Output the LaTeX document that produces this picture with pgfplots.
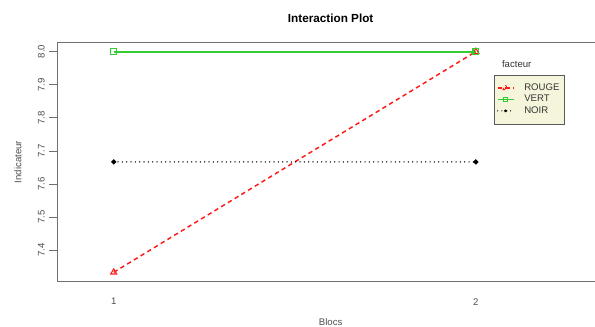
\documentclass[border=0pt]{standalone}
\usepackage{pgfplots}
\pgfplotsset{compat=1.18}
\usepackage{fontspec}
\setmainfont{Liberation Sans}

\definecolor{facRouge}{HTML}{FF1A1A}
\definecolor{facVert}{HTML}{33CC33}
\definecolor{facNoir}{HTML}{000000}
\definecolor{axisgray}{HTML}{707070}
\definecolor{labelgray}{HTML}{4D4D4D}
\definecolor{legendfill}{HTML}{F5F5DC}

\begin{document}
\begin{tikzpicture}
% page frame: 595 x 327 units of 0.75pt
\useasboundingbox (0pt,0pt) rectangle (446.25pt,245.25pt);
\clip (0pt,0pt) rectangle (446.25pt,245.25pt);
\begin{axis}[
  at={(43pt,34.0pt)}, anchor=south west,
  scale only axis,
  width=410pt, height=179.25pt,
  xmin=0.8443, xmax=2.354,
  ymin=7.305, ymax=8.027,
  xtick={1,2}, xticklabels={1,2},
  ytick={7.4,7.5,7.6,7.7,7.8,7.9,8.0},
  yticklabels={7.4,7.5,7.6,7.7,7.8,7.9,8.0},
  axis line style={axisgray, line width=0.8pt},
  x tick style={draw=none},
  y tick style={axisgray, line width=0.6pt},
  tick align=outside,
  major tick length=6pt,
  /pgf/number format/assume math mode=true,
  ticklabel style={font=\fontsize{7.2}{8}\selectfont, text=labelgray},
  yticklabel style={rotate=90, anchor=south},
  xticklabel style={yshift=-3pt},
  title={\textbf{Interaction Plot}},
  title style={font=\fontsize{8.8}{10}\selectfont, at={(0.5,1)}, anchor=center, yshift=12.5pt},
  xlabel={Blocs},
  xlabel style={font=\fontsize{7.2}{8}\selectfont, text=labelgray, at={(0.5,0)}, anchor=center, yshift=-30pt},
  ylabel={Indicateur},
  ylabel style={font=\fontsize{7.2}{8}\selectfont, text=labelgray, at={(0,0.5)}, anchor=center, yshift=29.5pt},
  legend cell align=left,
  legend image code/.code={
    \draw[line width=1pt, mark repeat=2, mark phase=2,
          mark options={line width=0.7pt, scale=0.85}]
      plot coordinates {(0pt,0pt) (6pt,0pt) (12pt,0pt)};
    % keep room between the line sample and its label
    \path[draw=none, fill=none] (0pt,0pt) rectangle (18pt,0.1pt);
  },
  legend style={
    at={(0.7985,0.8660)}, anchor=north west,
    fill=legendfill, draw=black!65, line width=0.6pt,
    font=\fontsize{7.2}{8}\selectfont,
    inner xsep=2pt, inner ysep=4.5pt, row sep=-1.95pt,
    nodes={text=black!80},
  },
]
% ROUGE : dashed red, open triangles
\addplot[color=facRouge, line width=1.1pt, dash pattern=on 3.3pt off 2.6pt,
  mark=triangle, mark size=2.6pt, mark options={solid, line width=0.8pt}]
  coordinates {(1,7.3333) (2,8.0)};
\addlegendentry{ROUGE}
% VERT : solid green, open squares
\addplot[color=facVert, line width=1.5pt, solid,
  mark=square, mark size=2.1pt, mark options={solid, line width=0.8pt}]
  coordinates {(1,8.0) (2,8.0)};
\addlegendentry{VERT}
% NOIR : dotted black, filled dots
\addplot[color=facNoir, line width=1.1pt, line cap=round, dash pattern=on 0pt off 3.25pt,
  mark=*, mark size=1.3pt, mark options={solid}]
  coordinates {(1,7.6667) (2,7.6667)};
\addlegendentry{NOIR}
\node[anchor=west, font=\fontsize{7.2}{8}\selectfont, text=black!80, inner sep=0pt]
  at (axis description cs:0.813,0.912) {facteur};
\end{axis}
\end{tikzpicture}
\end{document}
